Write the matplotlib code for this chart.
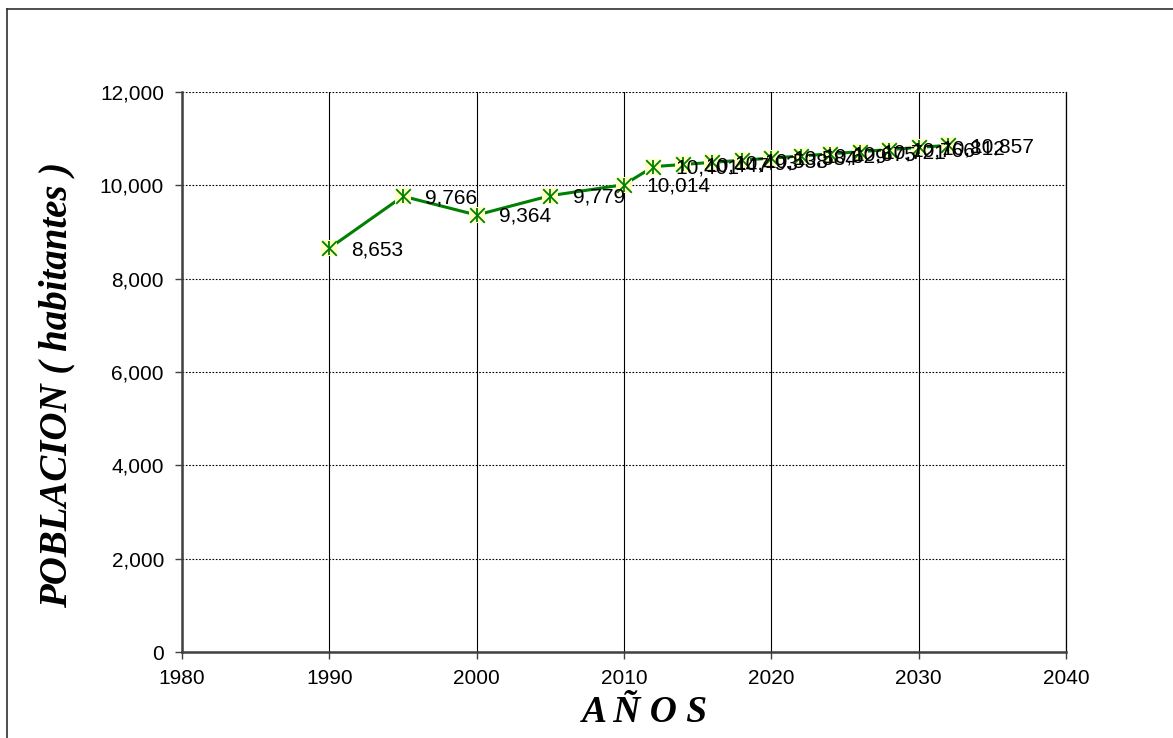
import matplotlib
matplotlib.use("Agg")
import matplotlib.pyplot as plt
from matplotlib.lines import Line2D
from matplotlib.ticker import FuncFormatter, MultipleLocator

years = [1990, 1995, 2000, 2005, 2010, 2012, 2014, 2016, 2018, 2020,
         2022, 2024, 2026, 2028, 2030, 2032]
population = [8653, 9766, 9364, 9779, 10014, 10401, 10447, 10493, 10538, 10584,
              10629, 10675, 10721, 10766, 10812, 10857]
x_label = "A Ñ O S"
y_label = "POBLACION ( habitantes )"

W, H = 1173, 738
fig = plt.figure(figsize=(W / 100, H / 100), dpi=100)
ax = fig.add_axes([182 / W, 1 - 652 / H, (1066 - 182) / W, (652 - 92) / H])

ax.set_xlim(1980, 2040)
ax.set_ylim(0, 12000)
ax.xaxis.set_major_locator(MultipleLocator(10))
ax.yaxis.set_major_locator(MultipleLocator(2000))
ax.yaxis.set_major_formatter(FuncFormatter(lambda v, p: f"{int(v):,}"))

ax.grid(axis="x", color="black", linewidth=0.8, linestyle="-")
ax.grid(axis="y", color="black", linewidth=0.8, linestyle=(0, (1.5, 1.5)))
ax.set_axisbelow(True)

ax.spines["top"].set_visible(False)
ax.spines["right"].set_linewidth(0.9)
ax.spines["right"].set_color("black")
for s in ["left", "bottom"]:
    ax.spines[s].set_linewidth(1.8)
    ax.spines[s].set_color("#404040")

ax.tick_params(axis="both", direction="out", length=5, width=1, color="#404040",
               labelsize=15, labelcolor="black")
ax.tick_params(axis="y", pad=8)
ax.tick_params(axis="x", pad=7)
for lab in ax.get_xticklabels() + ax.get_yticklabels():
    lab.set_family("Liberation Sans")

ax.plot(years, population, color="#008000", linewidth=2.2, zorder=3)
ax.scatter(years, population, marker="s", s=130, color="#FFFFC0", zorder=4, linewidths=0)
ax.scatter(years, population, marker="x", s=110, color="#008000", zorder=5, linewidths=1.3)
ax.scatter(years, population, marker="|", s=110, color="#008000", zorder=5, linewidths=1.3)

for xv, yv in zip(years, population):
    ax.annotate(f"{yv:,}", (xv, yv), xytext=(16, -1), textcoords="offset points",
                ha="left", va="center", fontsize=15, family="Liberation Sans",
                color="black", zorder=6)

fig.text(645 / W, 1 - 713 / H, x_label, ha="center", va="center",
         family="Liberation Serif", fontsize=27, fontweight="bold", fontstyle="italic")
fig.text(57 / W, 1 - 385 / H, y_label, ha="center", va="center", rotation=90,
         family="Liberation Serif", fontsize=28, fontweight="bold", fontstyle="italic")

fig.add_artist(Line2D([7 / W, 7 / W], [0, 1 - 9 / H], color="#303030", linewidth=1.2))
fig.add_artist(Line2D([7 / W, 1], [1 - 9 / H, 1 - 9 / H], color="#303030", linewidth=1.2))

fig.savefig("out.png", dpi=100)
